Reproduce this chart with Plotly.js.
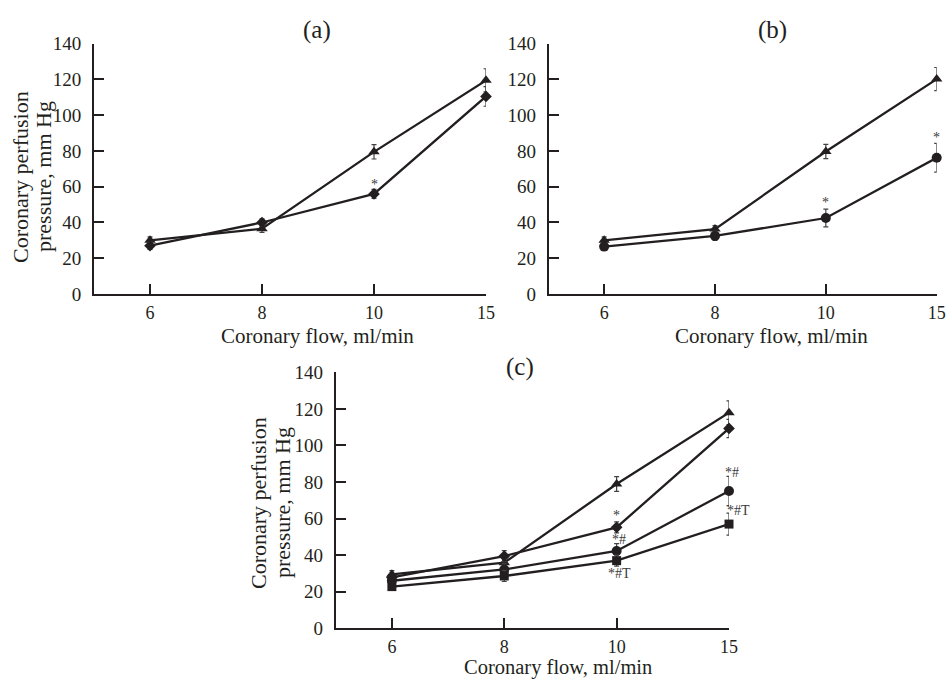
<!DOCTYPE html>
<html>
<head>
<meta charset="utf-8">
<script src="https://cdn.plot.ly/plotly-3.0.1.min.js"></script>
<style>html,body{margin:0;padding:0;background:#fff;}#chart{width:949px;height:679px;}</style>
</head>
<body>
<div id="chart"></div>
<script>
// categories (equally spaced on the axis)
const flowLabels = ['6', '8', '10', '15'];
const flowIdx = [0, 1, 2, 3];
const yTicks = [0, 20, 40, 60, 80, 100, 120, 140];

// Panel (a)
const aTriangle = [30, 36.5, 79.5, 119.5];
const aTriangleErr = [2, 2, 4, 6.5];
const aDiamond = [27, 40, 56, 110.5];
const aDiamondErr = [2, 2, 2.5, 5.5];

// Panel (b)
const bTriangle = [30, 36.3, 79.7, 120.2];
const bTriangleErr = [2, 2, 4, 6.5];
const bCircle = [26.5, 32.5, 42.5, 76.2];
const bCircleErr = [2, 2.5, 5, 8];

// Panel (c)
const cTriangle = [29.5, 35.9, 78.9, 117.9];
const cTriangleErr = [2, 3, 4, 6.5];
const cDiamond = [27.8, 39.5, 55.2, 109.3];
const cDiamondErr = [2, 3, 3, 5];
const cCircle = [26, 32.2, 42.3, 75.1];
const cCircleErr = [2, 3, 4, 8];
const cSquare = [22.8, 28.6, 37, 57];
const cSquareErr = [2, 3, 3, 6];

const INK = '#231f20';
const FONT = 'Liberation Serif, Times New Roman, serif';

function series(y, err, symbol, size, xa, ya) {
  return {
    x: flowIdx, y: y, xaxis: xa, yaxis: ya,
    type: 'scatter', mode: 'lines+markers',
    line: {color: INK, width: 2.3},
    marker: {symbol: symbol, size: size, color: INK},
    error_y: {type: 'data', array: err, visible: true, color: '#444', thickness: 1.2, width: 2.5},
    showlegend: false, cliponaxis: false, hoverinfo: 'skip'
  };
}

const data = [
  series(aTriangle, aTriangleErr, 'triangle-up', 10, 'x', 'y'),
  series(aDiamond, aDiamondErr, 'diamond', 9, 'x', 'y'),
  series(bTriangle, bTriangleErr, 'triangle-up', 10, 'x2', 'y2'),
  series(bCircle, bCircleErr, 'circle', 10, 'x2', 'y2'),
  series(cTriangle, cTriangleErr, 'triangle-up', 10, 'x3', 'y3'),
  series(cDiamond, cDiamondErr, 'diamond', 9, 'x3', 'y3'),
  series(cCircle, cCircleErr, 'circle', 10, 'x3', 'y3'),
  series(cSquare, cSquareErr, 'square', 9, 'x3', 'y3')
];

function xax(domain, anchor) {
  return {
    domain: domain, anchor: anchor, range: [-0.5, 3],
    tickvals: flowIdx, ticktext: flowLabels,
    showline: true, linecolor: INK, linewidth: 2,
    ticks: 'inside', ticklen: 10, tickwidth: 2, tickcolor: INK,
    showgrid: false, zeroline: false,
    tickfont: {family: FONT, size: 18, color: INK}, ticklabelstandoff: 1
  };
}
function yax(domain, anchor) {
  return {
    domain: domain, anchor: anchor, range: [0, 140],
    tickvals: yTicks,
    showline: true, linecolor: INK, linewidth: 2,
    ticks: 'inside', ticklen: 10, tickwidth: 2, tickcolor: INK,
    showgrid: false, zeroline: false,
    tickfont: {family: FONT, size: 19, color: INK}, ticklabelstandoff: 7
  };
}

const W = 949, H = 679;
function px(x) { return x / W; }
function py(y) { return 1 - y / H; }
function paperText(text, x, y, size, angle) {
  return {text: text, xref: 'paper', yref: 'paper', x: px(x), y: py(y),
    xanchor: 'center', yanchor: 'middle', showarrow: false, textangle: angle || 0,
    font: {family: FONT, size: size, color: INK}};
}
function mark(text, x, y, xa, ya, xshift) {
  return {text: text, xref: xa, yref: ya, x: x, y: y, xshift: xshift || 0,
    xanchor: 'center', yanchor: 'middle', showarrow: false,
    font: {family: FONT, size: 14, color: '#3a3a3a'}};
}

const annotations = [
  paperText('(a)', 317, 30, 25),
  paperText('(b)', 772, 30, 25),
  paperText('(c)', 520, 367, 25),
  paperText('Coronary flow, ml/min', 317, 336, 21),
  paperText('Coronary flow, ml/min', 771, 336, 21),
  paperText('Coronary flow, ml/min', 558, 667.5, 20.5),
  paperText('Coronary perfusion', 21, 177, 22, -90),
  paperText('pressure, mm Hg', 44, 177, 22, -90),
  paperText('Coronary perfusion', 258, 503, 22, -90),
  paperText('pressure, mm Hg', 282, 503, 22, -90),
  mark('*', 2, 61, 'x', 'y'),
  mark('*', 2, 51, 'x2', 'y2'),
  mark('*', 3, 87.5, 'x2', 'y2'),
  mark('*', 2, 61.5, 'x3', 'y3'),
  mark('*#', 2, 48.3, 'x3', 'y3', 2),
  mark('*#T', 2, 29.7, 'x3', 'y3', 3),
  mark('*#', 3, 85, 'x3', 'y3', 3),
  mark('*#T', 3, 64.3, 'x3', 'y3', 9)
];

const layout = {
  width: W, height: H,
  margin: {l: 0, r: 0, t: 0, b: 0},
  paper_bgcolor: '#fff', plot_bgcolor: 'rgba(0,0,0,0)',
  showlegend: false,
  font: {family: FONT, color: INK},
  xaxis: xax([px(94), px(486)], 'y'),
  yaxis: yax([py(294), py(43.7)], 'x'),
  xaxis2: xax([px(548.7), px(936.7)], 'y2'),
  yaxis2: yax([py(294), py(43.7)], 'x2'),
  xaxis3: xax([px(335.7), px(729)], 'y3'),
  yaxis3: yax([py(628.3), py(372.3)], 'x3'),
  annotations: annotations
};

Plotly.newPlot('chart', data, layout, {displayModeBar: false, staticPlot: true});
</script>
</body>
</html>
